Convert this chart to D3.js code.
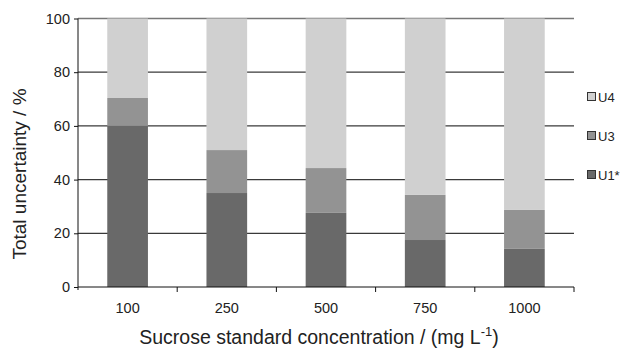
<!DOCTYPE html>
<html>
<head>
<meta charset="utf-8">
<script src="https://cdn.jsdelivr.net/npm/d3@7"></script>
<style>
  body { margin: 0; background: #fff; }
  svg text { font-family: "Liberation Sans", Arial, sans-serif; fill: #222; }
</style>
</head>
<body>
<div id="chart"></div>
<script>
// data
const concentrations = ["100", "250", "500", "750", "1000"];
const u1 = [60, 35, 27.6, 17.5, 14.2];
const u3 = [10.4, 16, 16.7, 16.8, 14.5];
const u4 = [29.6, 49, 55.7, 65.7, 71.3];
const yTicks = [0, 20, 40, 60, 80, 100];
const seriesNames = ["U1*", "U3", "U4"];
const seriesColors = ["#696969", "#939393", "#d0d0d0"];

const width = 621, height = 348;
const margin = { left: 78, right: 47, top: 18.5, bottom: 61 };

const svg = d3.select('#chart').append('svg')
  .attr('width', width)
  .attr('height', height);

const rows = concentrations.map((c, i) => ({ c: c, "U1*": u1[i], "U3": u3[i], "U4": u4[i] }));
const stacked = d3.stack().keys(seriesNames)(rows);

const x = d3.scaleBand()
  .domain(concentrations)
  .range([margin.left, width - margin.right])
  .paddingInner(0.59)
  .paddingOuter(0.295);

const y = d3.scaleLinear()
  .domain([0, 100])
  .range([height - margin.bottom, margin.top]);

// gridlines
svg.append('g')
  .selectAll('line')
  .data(yTicks.filter(d => d > 0))
  .enter().append('line')
  .attr('x1', margin.left)
  .attr('x2', width - margin.right)
  .attr('y1', d => y(d))
  .attr('y2', d => y(d))
  .attr('stroke', d => d === 100 ? '#777' : '#3a3a3a')
  .attr('stroke-width', 1.3);

// bars
svg.append('g')
  .selectAll('g')
  .data(stacked)
  .enter().append('g')
  .attr('fill', (d, i) => seriesColors[i])
  .selectAll('rect')
  .data(d => d)
  .enter().append('rect')
  .attr('x', d => x(d.data.c))
  .attr('width', x.bandwidth())
  .attr('y', d => y(d[1]))
  .attr('height', d => y(d[0]) - y(d[1]));

// y axis
const yAxis = d3.axisLeft(y).tickValues(yTicks).tickSize(4).tickPadding(4);
const gy = svg.append('g')
  .attr('transform', `translate(${margin.left},0)`)
  .call(yAxis);
gy.select('.domain').attr('d', `M0,${y(100)}V${y(0) + 3}`).attr('stroke', '#111');
gy.selectAll('.tick line').attr('stroke', '#111');
gy.selectAll('.tick text').style('font-size', '14.5px').attr('fill', '#222');

// x axis
const xAxis = d3.axisBottom(x).tickSize(0).tickPadding(16);
const gx = svg.append('g')
  .attr('transform', `translate(0,${y(0)})`)
  .call(xAxis);
gx.select('.domain').attr('d', `M${margin.left},0H${width - margin.right}`).attr('stroke', '#111');
gx.selectAll('.tick text').style('font-size', '14.5px').attr('fill', '#222');

// separators between categories
const step = x.step();
gx.selectAll('.sep')
  .data(concentrations)
  .enter().append('line')
  .attr('class', 'sep')
  .attr('x1', (d, i) => margin.left + step * (i + 1))
  .attr('x2', (d, i) => margin.left + step * (i + 1))
  .attr('y1', 0)
  .attr('y2', 5)
  .attr('stroke', '#111');

// axis titles
const xt = svg.append('text')
  .attr('x', (margin.left + width - margin.right) / 2 - 7)
  .attr('y', 344)
  .attr('text-anchor', 'middle')
  .style('font-size', '19.5px');
xt.append('tspan').text('Sucrose standard concentration / (mg L');
xt.append('tspan').attr('dy', -8).style('font-size', '13px').text('-1');
xt.append('tspan').attr('dy', 8).text(')');

svg.append('text')
  .attr('transform', `translate(26,174) rotate(-90)`)
  .attr('text-anchor', 'middle')
  .style('font-size', '19px')
  .text('Total uncertainty / %');

// legend
const legendY = [175, 136, 97];
const legend = svg.append('g')
  .selectAll('g')
  .data(seriesNames)
  .enter().append('g')
  .attr('transform', (d, i) => `translate(587,${legendY[i]})`);

legend.append('rect')
  .attr('x', 0.5)
  .attr('y', -4.5)
  .attr('width', 8)
  .attr('height', 8)
  .attr('fill', (d, i) => seriesColors[i])
  .attr('stroke', '#333')
  .attr('stroke-width', 1);

legend.append('text')
  .attr('x', 11)
  .attr('y', 4.5)
  .style('font-size', '13px')
  .attr('fill', '#333')
  .text(d => d);
</script>
</body>
</html>
